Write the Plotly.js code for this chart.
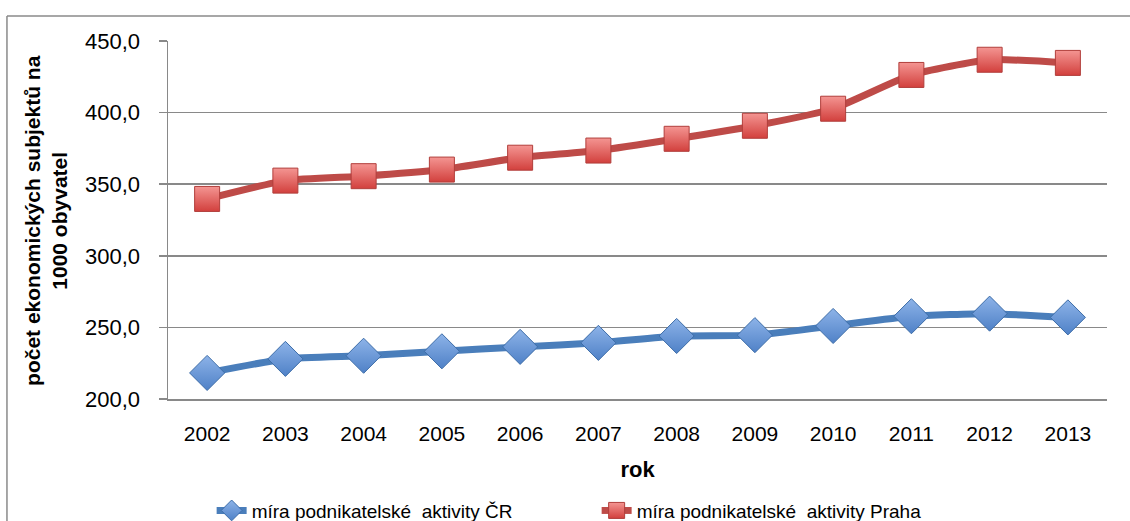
<!DOCTYPE html>
<html>
<head>
<meta charset="utf-8">
<script src="https://cdn.plot.ly/plotly-3.0.1.min.js"></script>
<style>html,body{margin:0;padding:0;background:#fff;}#chart{width:1130px;height:521px;}</style>
</head>
<body>
<div id="chart"></div>
<script>
const years = ["2002","2003","2004","2005","2006","2007","2008","2009","2010","2011","2012","2013"];
const miraCR = [218.2, 228.0, 230.2, 233.3, 236.4, 239.2, 244.0, 244.6, 251.0, 257.8, 259.6, 257.0];
const miraPraha = [339.7, 352.5, 355.6, 360.2, 368.5, 373.5, 381.7, 390.8, 402.7, 426.3, 436.9, 434.7];
const seriesNames = ["míra podnikatelské  aktivity ČR", "míra podnikatelské  aktivity Praha"];
const yTicks = [200, 250, 300, 350, 400, 450];
const yTitle = "<b>počet ekonomických subjektů na<br>1000 obyvatel</b>";
const xTitle = "<b>rok</b>";

const FONT = "Liberation Sans, Arial, sans-serif";

const traces = [
  {
    x: years, y: miraCR, name: seriesNames[0], type: "scatter", mode: "lines+markers",
    cliponaxis: false,
    line: {color: "#4A7EBB", width: 7, shape: "spline", smoothing: 0.5},
    marker: {symbol: "diamond", size: 27, color: "#8DB3E8",
             gradient: {type: "vertical", color: "#4F81C7"},
             line: {color: "#3D6DA8", width: 1}}
  },
  {
    x: years, y: miraPraha, name: seriesNames[1], type: "scatter", mode: "lines+markers",
    cliponaxis: false,
    line: {color: "#BE4B48", width: 7, shape: "spline", smoothing: 0.5},
    marker: {symbol: "square", size: 25, color: "#F49592",
             gradient: {type: "vertical", color: "#D2403D"},
             line: {color: "#B13E3B", width: 1}}
  }
];

const layout = {
  width: 1130, height: 521,
  margin: {l: 168, r: 23, t: 41, b: 122},
  paper_bgcolor: "#ffffff", plot_bgcolor: "#ffffff",
  separators: ", ",
  font: {family: FONT, color: "#000000", size: 21},
  showlegend: true,
  legend: {
    orientation: "h", xref: "container", x: 0.528, xanchor: "center",
    yref: "container", y: 0.02, yanchor: "middle",
    font: {family: FONT, size: 19, color: "#000"},
    entrywidth: 340, entrywidthmode: "pixels", traceorder: "normal"
  },
  xaxis: {
    type: "category", range: [-0.5, 11.5],
    showline: true, linecolor: "#898989", linewidth: 1.5,
    showgrid: false, ticks: "", tickfont: {size: 21},
    ticklabelstandoff: 15,
    title: {text: xTitle, font: {size: 22}, standoff: 18},
    automargin: false
  },
  yaxis: {
    range: [200, 450], tickvals: yTicks, tickformat: ".1f",
    showline: true, linecolor: "#898989", linewidth: 1.5,
    showgrid: true, gridcolor: "#898989", gridwidth: 1.5,
    ticks: "outside", ticklen: 8, tickcolor: "#898989", tickwidth: 1.5,
    tickfont: {size: 22}, ticklabelstandoff: 14,
    zeroline: false,
    automargin: false
  },
  annotations: [
    {text: yTitle, xref: "paper", yref: "paper", x: -0.13, y: 0.5,
     xanchor: "center", yanchor: "middle", textangle: -90, showarrow: false,
     font: {family: FONT, size: 21, color: "#000"}}
  ],
  shapes: [
    {type: "line", xref: "paper", yref: "paper", x0: -0.1715, x1: -0.1715, y0: 1.0698, y1: -0.35,
     line: {color: "#8a8a8a", width: 1.5}},
    {type: "line", xref: "paper", yref: "paper", x0: -0.1715, x1: 1.03, y0: 1.0698, y1: 1.0698,
     line: {color: "#8a8a8a", width: 1.5}}
  ]
};

Plotly.newPlot("chart", traces, layout, {displayModeBar: false, staticPlot: true});
</script>
</body>
</html>
